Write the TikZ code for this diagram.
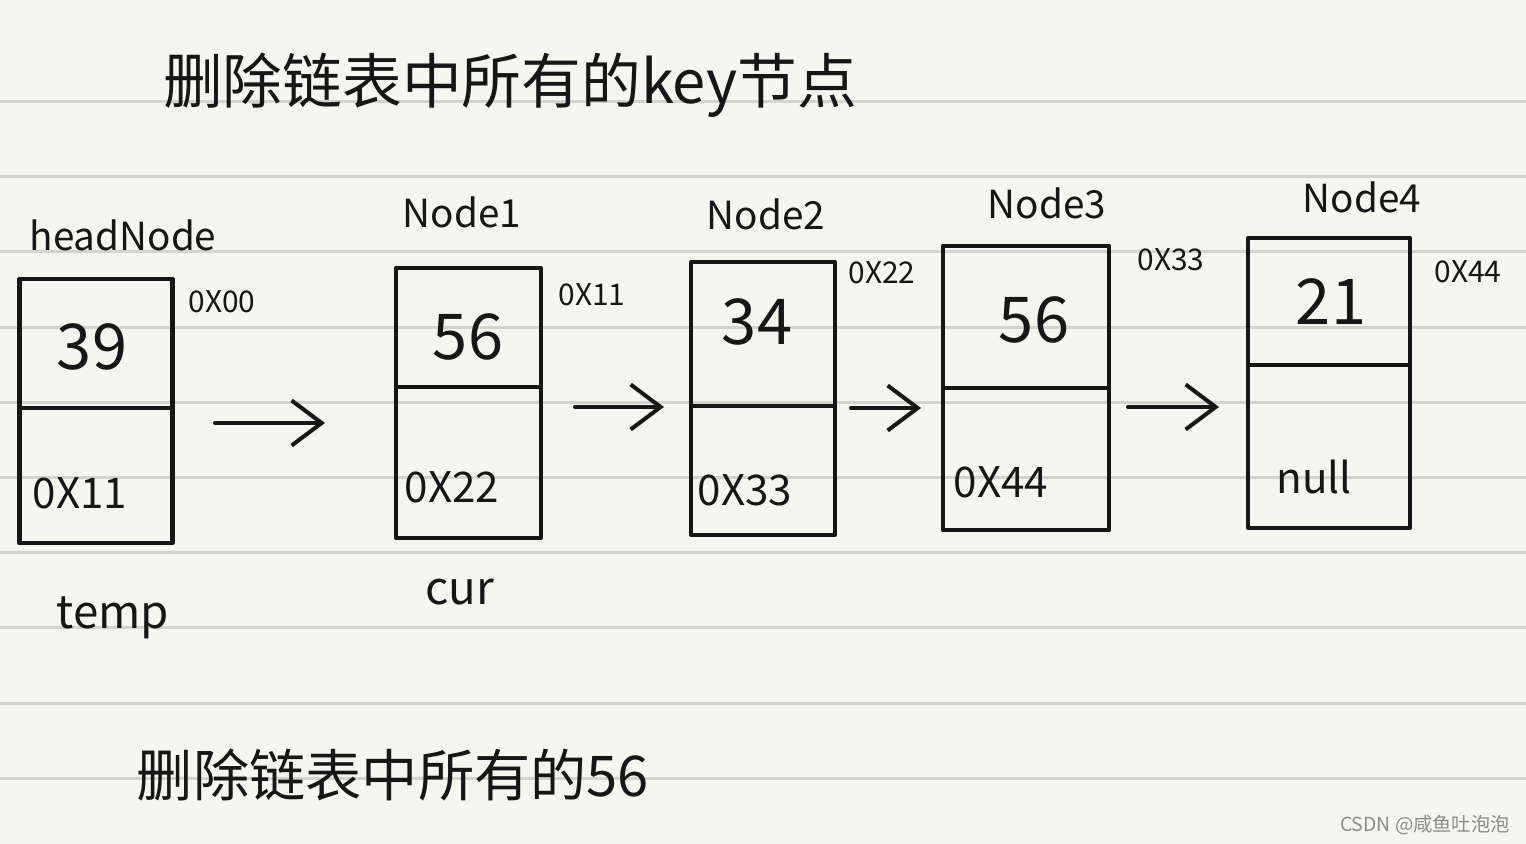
\documentclass[tikz,border=0pt]{standalone}
\usepackage{fontspec}
\setmainfont{Noto Sans CJK SC}
\usepackage{xcolor}
\usetikzlibrary{arrows.meta, positioning, calc}

\definecolor{paper}{RGB}{246,246,241}
\definecolor{rule}{RGB}{212,212,206}
\definecolor{ink}{RGB}{22,22,22}
\definecolor{mark}{RGB}{140,140,140}

\begin{document}
\begin{tikzpicture}[
    x=0.02cm, y=-0.02cm,
    %% Paper and pen
    ruled/.style = {draw=rule, line width=1.6pt},
    pen/.style   = {draw=ink, line width=2.3pt, line cap=round, line join=round},
    %% Node boxes (a cell of the list)
    cell/.style  = {pen, rectangle, inner sep=0pt, outer sep=0pt},
    %% Texts
    ttl/.style   = {text=ink, font=\fontsize{34}{38}\selectfont},
    nname/.style = {text=ink, font=\fontsize{22}{24}\selectfont},
    addr/.style  = {text=ink, font=\fontsize{17}{19}\selectfont},
    val/.style   = {text=ink, font=\fontsize{36}{38}\selectfont},
    ptr/.style   = {text=ink, font=\fontsize{24}{26}\selectfont},
    var/.style   = {text=ink, font=\fontsize{26}{28}\selectfont},
    %% Arrows
    link/.style  = {pen, -{Straight Barb[length=6mm, width=9mm, line width=2.3pt]}},
  ]

    %% ── Paper ──────────────────────────────────────────────────────────
    \fill[paper] (0,0) rectangle (1526,844);
    \useasboundingbox (0,0) rectangle (1526,844);
    \foreach \k in {0,...,9}
      \draw[ruled] (0,{101.5+75.2*\k}) -- (1526,{101.5+75.2*\k});

    %% ── Titles ─────────────────────────────────────────────────────────
    \node[ttl] (T1) at (510,85) {删除链表中所有的key节点};
    \node[ttl, font=\fontsize{32}{36}\selectfont] (T2) at (393,775) {删除链表中所有的56};

    %% ── Boxes ──────────────────────────────────────────────────────────
    \node[cell, minimum width=3.06cm, minimum height=5.30cm] (H)  at (96,411)   {};
    \node[cell, minimum width=2.90cm, minimum height=5.40cm] (N1) at (468.5,403) {};
    \node[cell, minimum width=2.88cm, minimum height=5.46cm] (N2) at (763,398.5) {};
    \node[cell, minimum width=3.32cm, minimum height=5.70cm] (N3) at (1026,388) {};
    \node[cell, minimum width=3.24cm, minimum height=5.80cm] (N4) at (1329,383) {};

    %% dividers between data and next
    \draw[pen] (H.west|-0,408)  -- (H.east|-0,408);
    \draw[pen] (N1.west|-0,387) -- (N1.east|-0,387);
    \draw[pen] (N2.west|-0,406) -- (N2.east|-0,406);
    \draw[pen] (N3.west|-0,388) -- (N3.east|-0,388);
    \draw[pen] (N4.west|-0,365) -- (N4.east|-0,365);

    %% names above the boxes
    \node[nname] (HL)  at (123,235) {headNode};
    \node[nname] (N1L) at (462,212) {Node1};
    \node[nname] (N2L) at (766,214) {Node2};
    \node[nname] (N3L) at (1047,203) {Node3};
    \node[nname] (N4L) at (1362,197) {Node4};

    %% addresses at the top right corners
    \node[addr] (HA)  at (222,302)  {0X00};
    \node[addr] (N1A) at (592,295)  {0X11};
    \node[addr] (N2A) at (882,273)  {0X22};
    \node[addr] (N3A) at (1171,260) {0X33};
    \node[addr] (N4A) at (1468,272) {0X44};

    %% data fields
    \node[val] (HV)  at (92,347)   {39};
    \node[val] (N1V) at (468,337)  {56};
    \node[val] (N2V) at (757,322)  {34};
    \node[val] (N3V) at (1034,320) {56};
    \node[val] (N4V) at (1331,302) {21};

    %% next fields
    \node[ptr] (HP)  at (80,493)   {0X11};
    \node[ptr] (N1P) at (452,487)  {0X22};
    \node[ptr] (N2P) at (745,490)  {0X33};
    \node[ptr] (N3P) at (1001,482) {0X44};
    \node[ptr] (N4P) at (1314,477) {null};

    %% ── Links ──────────────────────────────────────────────────────────
    \coordinate (a1s) at (215,423);  \coordinate (a1e) at (325,423);
    \coordinate (a2s) at (575,407);  \coordinate (a2e) at (664,407);
    \coordinate (a3s) at (851,408);  \coordinate (a3e) at (921,408);
    \coordinate (a4s) at (1128,407); \coordinate (a4e) at (1219,407);
    \draw[link] (a1s) -- (a1e);
    \draw[link] (a2s) -- (a2e);
    \draw[link] (a3s) -- (a3e);
    \draw[link] (a4s) -- (a4e);

    %% ── Pointers ───────────────────────────────────────────────────────
    \node[var] (temp) at (113,618) {temp};
    \node[var] (cur)  at (460,592) {cur};

    %% watermark
    \node[text=mark, font=\fontsize{11}{13}\selectfont] (wm) at (1425,825) {CSDN @咸鱼吐泡泡};

\end{tikzpicture}
\end{document}
